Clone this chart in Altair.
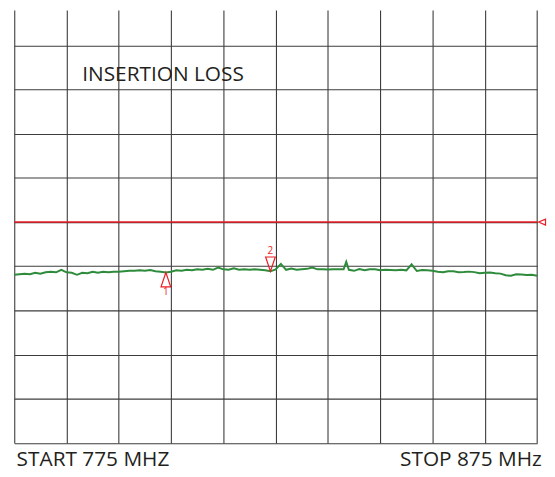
import altair as alt
import pandas as pd

# ---- data ----
freq_mhz = list(range(775, 839)) + [838.5] + list(range(839, 876))
trace_db = [
    -6.194, -6.183, -6.171, -6.183, -6.149, -6.171, -6.138, -6.126, -6.138, -6.081,
    -6.138, -6.149, -6.194, -6.149, -6.160, -6.126, -6.149, -6.126, -6.138, -6.126,
    -6.126, -6.115, -6.104, -6.104, -6.093, -6.104, -6.088, -6.115, -6.126, -6.142,
    -6.126, -6.093, -6.104, -6.081, -6.093, -6.070, -6.081, -6.059, -6.081, -6.030,
    -6.070, -6.081, -6.048, -6.081, -6.070, -6.081, -6.070, -6.081, -6.093, -6.115,
    -6.070, -5.946, -6.081, -6.054, -6.081, -6.070, -6.059, -6.030, -6.070, -6.066,
    -6.075, -6.066, -6.066, -6.070, -5.901,
    -6.081, -6.104, -6.066, -6.093, -6.070, -6.070, -6.093, -6.081, -6.086, -6.093,
    -6.081, -6.093, -5.958, -6.108, -6.086, -6.093, -6.104, -6.126, -6.138, -6.115,
    -6.115, -6.138, -6.133, -6.122, -6.133, -6.160, -6.149, -6.144, -6.160, -6.167,
    -6.205, -6.216, -6.183, -6.189, -6.198, -6.194, -6.216,
]
ref_level_db = [-5.0]
marker_freqs = [804, 824]
marker_labels = ["1", "2"]
grid_x = list(range(775, 876, 10))
grid_y = list(range(-10, 0))
title_text = ["INSERTION LOSS"]
title_pos = [788.0, -1.8]
start_label = ["START 775 MHZ"]
stop_label = ["STOP 875 MHz"]

RED = "#ed1c24"
GREEN = "#2e8b3b"
GRID = "#3c3c3c"
TEXT = "#231f20"
FONT = "Open Sans"

trace = pd.DataFrame({"f": freq_mhz, "db": trace_db})
lookup = dict(zip(freq_mhz, trace_db))
markers = pd.DataFrame({"f": marker_freqs, "db": [lookup[f] for f in marker_freqs], "label": marker_labels})
ref = pd.DataFrame({"f": [freq_mhz[0]], "f2": [freq_mhz[-1]], "db": ref_level_db})
ref_end = pd.DataFrame({"f": [freq_mhz[-1]], "db": ref_level_db})

xscale = alt.Scale(domain=[775, 875], nice=False, zero=False)
yscale = alt.Scale(domain=[-10, -0.2], nice=False, zero=False)

xaxis = alt.Axis(values=grid_x, grid=True, labels=False, ticks=False, domain=False, title="",
                 gridColor=GRID, gridWidth=1.1, gridOpacity=1)
yaxis = alt.Axis(values=grid_y, grid=True, labels=False, ticks=False, domain=False, title="",
                 gridColor=GRID, gridWidth=1.1, gridOpacity=1)

trace_layer = alt.Chart(trace).mark_line(color=GREEN, strokeWidth=2).encode(
    x=alt.X("f:Q", scale=xscale, axis=xaxis),
    y=alt.Y("db:Q", scale=yscale, axis=yaxis),
)

ref_layer = alt.Chart(ref).mark_rule(color=RED, strokeWidth=1.5).encode(
    x="f:Q", x2="f2:Q", y="db:Q"
)

ref_tri = alt.Chart(ref_end).mark_point(
    shape="M-1,0L1,-0.85L1,0.85Z", size=49, filled=False, color=RED, strokeWidth=1.2,
    xOffset=5, opacity=1
).encode(x="f:Q", y="db:Q")

m1 = alt.Chart(markers[markers.label == "1"]).mark_point(
    shape="M0,-1L0.67,1L-0.67,1Z", size=210, filled=False, color=RED, strokeWidth=1.2,
    yOffset=7.2, opacity=1
).encode(x="f:Q", y="db:Q")
m2 = alt.Chart(markers[markers.label == "2"]).mark_point(
    shape="M-0.67,-1L0.67,-1L0,1Z", size=210, filled=False, color=RED, strokeWidth=1.2,
    yOffset=-7.2, opacity=1
).encode(x="f:Q", y="db:Q")
l1 = alt.Chart(markers[markers.label == "1"]).mark_text(
    color=RED, font=FONT, fontSize=10, dy=20, baseline="middle"
).encode(x="f:Q", y="db:Q", text="label:N")
l2 = alt.Chart(markers[markers.label == "2"]).mark_text(
    color=RED, font=FONT, fontSize=10, dy=-20, baseline="middle"
).encode(x="f:Q", y="db:Q", text="label:N")

title_layer = alt.Chart(pd.DataFrame({"f": [title_pos[0]], "db": [title_pos[1]], "t": title_text})).mark_text(
    color=TEXT, font=FONT, fontSize=21, align="left", baseline="alphabetic"
).encode(x="f:Q", y="db:Q", text="t:N")

start_layer = alt.Chart(pd.DataFrame({"f": [775], "db": [-10], "t": start_label})).mark_text(
    color=TEXT, font=FONT, fontSize=21, align="left", baseline="alphabetic", dx=2.4, dy=23.3
).encode(x="f:Q", y="db:Q", text="t:N")

stop_layer = alt.Chart(pd.DataFrame({"f": [875], "db": [-10], "t": stop_label})).mark_text(
    color=TEXT, font=FONT, fontSize=21, align="right", baseline="alphabetic", dx=4.8, dy=23.3
).encode(x="f:Q", y="db:Q", text="t:N")

chart = alt.layer(
    trace_layer, ref_layer, ref_tri, m1, m2, l1, l2, title_layer, start_layer, stop_layer
).properties(
    width=527.4,
    height=436.7,
    autosize=alt.AutoSizeParams(type="none"),
    padding={"left": 6.3, "top": 0, "right": 10, "bottom": 30},
    background="white",
).configure_view(stroke="transparent")

chart.save("out.html", embed_options={"renderer": "svg", "actions": False})
